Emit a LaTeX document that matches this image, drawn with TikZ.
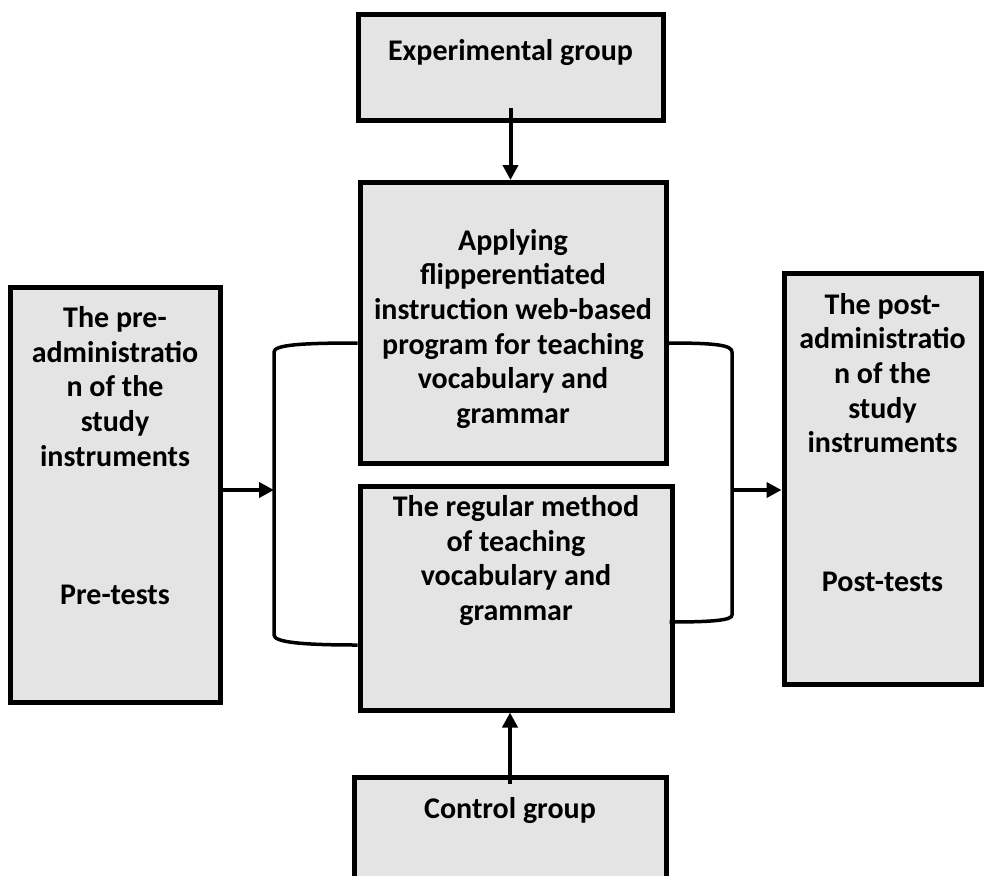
\documentclass[tikz,border=0pt]{standalone}
\usepackage{fontspec}
\setmainfont{Carlito}
\usetikzlibrary{arrows.meta,positioning}
\definecolor{panel}{RGB}{228,228,228}
\tikzset{
  >={Triangle[length=15pt,width=15pt]},
  box/.style={draw=black,fill=panel,line width=5pt,inner sep=0pt},
  boxtext/.style={anchor=north,inner sep=0pt,align=center,text=black,
    font=\fontsize{30}{34.6}\selectfont\bfseries},
  flow/.style={->,line width=4pt},
  bracket/.style={line width=3.5pt,line join=round},
}

\begin{document}
\begin{tikzpicture}[x=1pt,y=-1pt]
  \useasboundingbox (0,0) rectangle (984,875);
  \clip (0,0) rectangle (984,875);
  \node[box,minimum width=305,minimum height=106,
    label={[boxtext,yshift=-27]north:Experimental group}] (expgroup) at (510.5,67.5) {};
  \node[box,minimum width=306,minimum height=281,
    label={[boxtext,yshift=-49]north:Applying\\flipperentiated\\instruction web-based\\program for teaching\\vocabulary and\\grammar}] (applying) at (513,323) {};
  \node[box,minimum width=312,minimum height=224,
    label={[boxtext,yshift=-12]north:The regular method\\of teaching\\vocabulary and\\grammar}] (regular) at (516,598) {};
  \node[box,minimum width=312,minimum height=124,
    label={[boxtext,yshift=-22]north:Control group}] (ctrlgroup) at (510,839.5) {};
  \node[box,minimum width=210,minimum height=415,
    label={[boxtext,yshift=-22]north:The pre-\\administratio\\n of the\\study\\instruments\\~\\~\\~\\Pre-tests}] (pretest) at (115,494.5) {};
  \node[box,minimum width=197,minimum height=411,
    label={[boxtext,yshift=-22]north:The post-\\administratio\\n of the\\study\\instruments\\~\\~\\~\\Post-tests}] (posttest) at (882.5,479) {};

  \coordinate (lmid) at (274,490);
  \coordinate (rmid) at (732,490);
  \draw[bracket] ([yshift=-20]applying.west) .. controls (300,343) and (274,345) .. (274,352)
    -- (274,635) .. controls (274,642) and (300,645) .. ([yshift=-47]regular.west);
  \draw[bracket] ([yshift=-20]applying.east) .. controls (715,343) and (732,345) .. (732,352)
    -- (732,615) .. controls (732,620) and (715,622) .. ([yshift=-24,xshift=-5]regular.east);

  \draw[flow] ([yshift=15]expgroup.south) -- (expgroup.south |- applying.north);
  \draw[flow] ([yshift=-9]ctrlgroup.north) -- (ctrlgroup.north |- regular.south);
  \draw[flow] (pretest.east |- lmid) -- (lmid);
  \draw[flow] (rmid) -- (posttest.west |- rmid);
\end{tikzpicture}
\end{document}
